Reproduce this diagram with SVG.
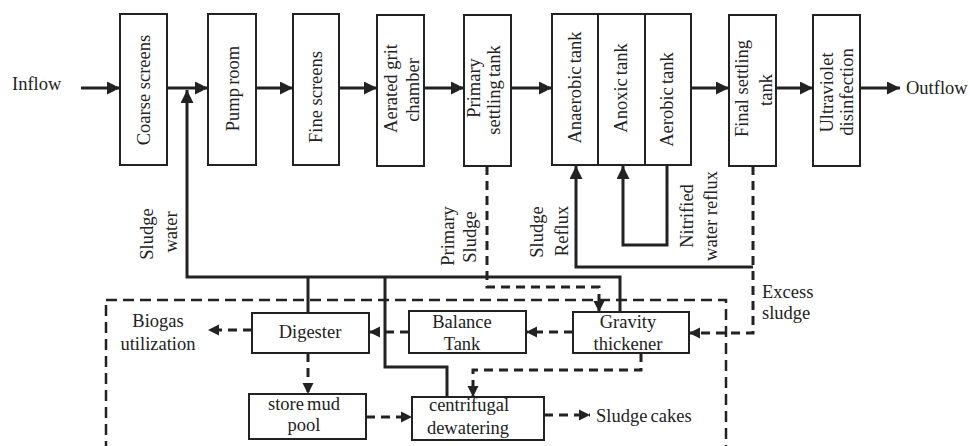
<svg xmlns="http://www.w3.org/2000/svg" width="970" height="446" viewBox="0 0 970 446">
<style>
  .box { fill: #fff; stroke: #222; stroke-width: 2; }
  .t { font-family: "Liberation Serif", "Times New Roman", serif; font-size: 18.5px; fill: #222; }
  .m { text-anchor: middle; }
  .ws { word-spacing: -1.5px; }
  .ln { fill: none; stroke: #222; stroke-width: 3; }
  .dl { fill: none; stroke: #222; stroke-width: 3; stroke-dasharray: 9 6; }
  .bd { fill: none; stroke: #222; stroke-width: 2.5; stroke-dasharray: 11 6; }
</style>
<defs>
  <marker id="ah" markerUnits="userSpaceOnUse" markerWidth="14" markerHeight="13" refX="13" refY="6.5" orient="auto">
    <path d="M0,0 L13,6.5 L0,13 z" fill="#222"/>
  </marker>
  <marker id="ad" markerUnits="userSpaceOnUse" markerWidth="12" markerHeight="12" refX="11" refY="6" orient="auto">
    <path d="M0,0.5 L11,6 L0,11.5 z" fill="#222"/>
  </marker>
</defs>

<rect width="970" height="446" fill="#fff"/>

<g id="connectors">
  <!-- main flow -->
  <path class="ln" d="M81,88 H120" marker-end="url(#ah)"/>
  <path class="ln" d="M167,88 H208" marker-end="url(#ah)"/>
  <path class="ln" d="M256,88 H293" marker-end="url(#ah)"/>
  <path class="ln" d="M339,88 H377" marker-end="url(#ah)"/>
  <path class="ln" d="M424,88 H464" marker-end="url(#ah)"/>
  <path class="ln" d="M511,88 H552" marker-end="url(#ah)"/>
  <path class="ln" d="M691,88 H729" marker-end="url(#ah)"/>
  <path class="ln" d="M776,88 H813" marker-end="url(#ah)"/>
  <path class="ln" d="M860,88 H900" marker-end="url(#ah)"/>
  <!-- sludge water return -->
  <path class="ln" d="M620,312 V277 H187 V90" marker-end="url(#ah)"/>
  <path class="ln" d="M308,277 V313"/>
  <path class="ln" d="M385,277 V367 H447 V397"/>
  <!-- sludge reflux -->
  <path class="ln" d="M753,267 H576 V166" marker-end="url(#ah)"/>
  <!-- nitrified water reflux -->
  <path class="ln" d="M667,166 V245 H623 V166" marker-end="url(#ah)"/>
  <!-- primary sludge -->
  <path class="dl" d="M487,166 V287 H599 V312" marker-end="url(#ad)"/>
  <!-- excess sludge -->
  <path class="dl" d="M753,166 V333 H689" marker-end="url(#ad)"/>
  <!-- sludge treatment -->
  <path class="dl" d="M573,332 H526" marker-end="url(#ad)"/>
  <path class="dl" d="M409,332 H369" marker-end="url(#ad)"/>
  <path class="dl" d="M252,330 H208" marker-end="url(#ad)"/>
  <path class="dl" d="M308,353 V394" marker-end="url(#ad)"/>
  <path class="dl" d="M641,353 V370 H473 V397" marker-end="url(#ad)"/>
  <path class="dl" d="M366,417 H412" marker-end="url(#ad)"/>
  <path class="dl" d="M544,415 H590" marker-end="url(#ad)"/>
  <!-- boundary -->
  <rect class="bd" x="106" y="300" width="620" height="170"/>
</g>

<g id="inflow"><text class="t" x="12" y="90">Inflow</text></g>
<g id="outflow"><text class="t" x="906" y="94">Outflow</text></g>

<g id="coarse-screens">
  <rect class="box" x="120" y="14" width="47" height="151"/>
  <text class="t m" transform="translate(150,90) rotate(-90)">Coarse screens</text>
</g>
<g id="pump-room">
  <rect class="box" x="208" y="14" width="48" height="151"/>
  <text class="t m ws" transform="translate(239,88.5) rotate(-90)">Pump room</text>
</g>
<g id="fine-screens">
  <rect class="box" x="293" y="14" width="46" height="151"/>
  <text class="t m" transform="translate(322,97) rotate(-90)">Fine screens</text>
</g>
<g id="aerated-grit-chamber">
  <rect class="box" x="377" y="15" width="47" height="151"/>
  <text class="t m" transform="translate(397,88.5) rotate(-90)">Aerated grit</text>
  <text class="t m" transform="translate(419,90) rotate(-90)">chamber</text>
</g>
<g id="primary-settling-tank">
  <rect class="box" x="464" y="15" width="47" height="151"/>
  <text class="t m" transform="translate(480,88) rotate(-90)">Primary</text>
  <text class="t m ws" transform="translate(500,90) rotate(-90)">settling tank</text>
</g>
<g id="anaerobic-tank">
  <rect class="box" x="552" y="14" width="46" height="151"/>
  <text class="t m ws" transform="translate(581,87.5) rotate(-90)">Anaerobic tank</text>
</g>
<g id="anoxic-tank">
  <rect class="box" x="598" y="14" width="47" height="151"/>
  <text class="t m ws" transform="translate(627,88) rotate(-90)">Anoxic tank</text>
</g>
<g id="aerobic-tank">
  <rect class="box" x="645" y="14" width="46" height="151"/>
  <text class="t m ws" transform="translate(673,99.5) rotate(-90)">Aerobic tank</text>
</g>
<g id="final-settling-tank">
  <rect class="box" x="729" y="15" width="47" height="151"/>
  <text class="t m" transform="translate(748,88.5) rotate(-90)">Final settling</text>
  <text class="t m" transform="translate(772,90) rotate(-90)">tank</text>
</g>
<g id="ultraviolet-disinfection">
  <rect class="box" x="813" y="15" width="47" height="151"/>
  <text class="t m" transform="translate(833,92.5) rotate(-90)">Ultraviolet</text>
  <text class="t m" transform="translate(853,92) rotate(-90)">disinfection</text>
</g>

<g id="label-sludge-water">
  <text class="t m" transform="translate(152.5,234) rotate(-90)">Sludge</text>
  <text class="t m" transform="translate(177,232) rotate(-90)">water</text>
</g>
<g id="label-primary-sludge">
  <text class="t m" transform="translate(454,236) rotate(-90)">Primary</text>
  <text class="t m" transform="translate(475.5,237) rotate(-90)">Sludge</text>
</g>
<g id="label-sludge-reflux">
  <text class="t m" transform="translate(542.5,232) rotate(-90)">Sludge</text>
  <text class="t m" transform="translate(567.5,231) rotate(-90)">Reflux</text>
</g>
<g id="label-nitrified">
  <text class="t m" transform="translate(692.5,216) rotate(-90)">Nitrified</text>
  <text class="t m" transform="translate(717,216) rotate(-90)">water reflux</text>
</g>
<g id="label-excess-sludge">
  <text class="t" x="762" y="298">Excess</text>
  <text class="t" x="762" y="319">sludge</text>
</g>
<g id="biogas-utilization">
  <text class="t m" x="158" y="327">Biogas</text>
  <text class="t m" x="158" y="350">utilization</text>
</g>
<g id="digester">
  <rect class="box" x="252" y="313" width="117" height="40"/>
  <text class="t m" x="310" y="338">Digester</text>
</g>
<g id="balance-tank">
  <rect class="box" x="409" y="311" width="117" height="42"/>
  <text class="t m" x="462" y="328">Balance</text>
  <text class="t m" x="462" y="350">Tank</text>
</g>
<g id="gravity-thickener">
  <rect class="box" x="573" y="312" width="116" height="41"/>
  <text class="t m" x="628" y="328">Gravity</text>
  <text class="t m" x="628" y="350">thickener</text>
</g>
<g id="store-mud-pool">
  <rect class="box" x="249" y="394" width="117" height="45"/>
  <text class="t m ws" x="304" y="410">store mud</text>
  <text class="t m" x="304" y="431">pool</text>
</g>
<g id="centrifugal-dewatering">
  <rect class="box" x="412" y="397" width="132" height="43"/>
  <text class="t m" x="469" y="411">centrifugal</text>
  <text class="t m" x="468" y="434">dewatering</text>
</g>
<g id="sludge-cakes">
  <text class="t ws" x="596" y="422">Sludge cakes</text>
</g>
</svg>
